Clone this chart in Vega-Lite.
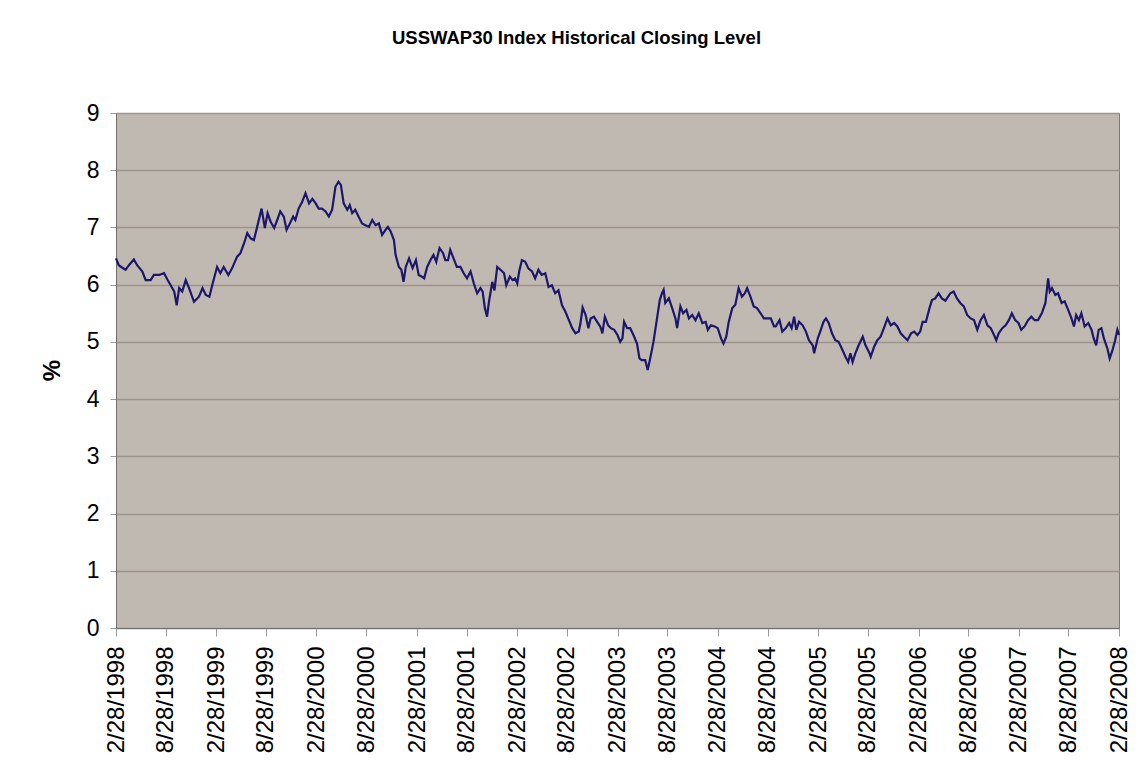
{
  "$schema": "https://vega.github.io/schema/vega-lite/v6.json",
  "width": 1003,
  "height": 515,
  "autosize": {"type": "none"},
  "padding": {"left": 116, "top": 113, "right": 26, "bottom": 154},
  "background": "#ffffff",
  "title": {
    "text": "USSWAP30 Index Historical Closing Level",
    "font": "Liberation Sans",
    "fontSize": 18.5,
    "fontWeight": "bold",
    "color": "#000000",
    "anchor": "middle",
    "dx": -41,
    "offset": 55
  },
  "config": {
    "view": {"fill": "#C0B9B2", "stroke": "#7a7a7a", "strokeWidth": 1},
    "axis": {"labelFont": "Liberation Sans", "titleFont": "Liberation Sans", "labelColor": "#000000", "titleColor": "#000000"}
  },
  "data": {
    "values": [
      {"d": "1998-02-28", "v": 6.46}, {"d": "1998-03-10", "v": 6.34}, {"d": "1998-03-22", "v": 6.30}, {"d": "1998-04-04", "v": 6.26},
      {"d": "1998-04-16", "v": 6.34}, {"d": "1998-05-04", "v": 6.44}, {"d": "1998-05-16", "v": 6.34}, {"d": "1998-06-04", "v": 6.23},
      {"d": "1998-06-16", "v": 6.08}, {"d": "1998-07-04", "v": 6.08}, {"d": "1998-07-16", "v": 6.17}, {"d": "1998-08-04", "v": 6.17},
      {"d": "1998-08-22", "v": 6.20}, {"d": "1998-09-04", "v": 6.08}, {"d": "1998-09-15", "v": 5.99}, {"d": "1998-09-28", "v": 5.88},
      {"d": "1998-10-07", "v": 5.64}, {"d": "1998-10-16", "v": 5.94}, {"d": "1998-10-27", "v": 5.88}, {"d": "1998-11-09", "v": 6.08},
      {"d": "1998-11-21", "v": 5.94}, {"d": "1998-12-09", "v": 5.70}, {"d": "1998-12-27", "v": 5.79}, {"d": "1999-01-09", "v": 5.94},
      {"d": "1999-01-21", "v": 5.82}, {"d": "1999-02-03", "v": 5.79}, {"d": "1999-02-15", "v": 6.02}, {"d": "1999-03-03", "v": 6.31},
      {"d": "1999-03-15", "v": 6.20}, {"d": "1999-03-27", "v": 6.31}, {"d": "1999-04-13", "v": 6.17}, {"d": "1999-04-27", "v": 6.29},
      {"d": "1999-05-15", "v": 6.49}, {"d": "1999-05-27", "v": 6.55}, {"d": "1999-06-09", "v": 6.72}, {"d": "1999-06-21", "v": 6.90},
      {"d": "1999-07-03", "v": 6.81}, {"d": "1999-07-15", "v": 6.78}, {"d": "1999-07-27", "v": 7.01}, {"d": "1999-08-12", "v": 7.33},
      {"d": "1999-08-24", "v": 6.99}, {"d": "1999-09-03", "v": 7.25}, {"d": "1999-09-14", "v": 7.10}, {"d": "1999-09-27", "v": 6.99},
      {"d": "1999-10-08", "v": 7.13}, {"d": "1999-10-19", "v": 7.28}, {"d": "1999-11-01", "v": 7.19}, {"d": "1999-11-11", "v": 6.96},
      {"d": "1999-11-23", "v": 7.07}, {"d": "1999-12-05", "v": 7.19}, {"d": "1999-12-13", "v": 7.13}, {"d": "1999-12-25", "v": 7.33},
      {"d": "2000-01-07", "v": 7.45}, {"d": "2000-01-19", "v": 7.60}, {"d": "2000-02-01", "v": 7.42}, {"d": "2000-02-13", "v": 7.50},
      {"d": "2000-02-25", "v": 7.42}, {"d": "2000-03-07", "v": 7.33}, {"d": "2000-03-19", "v": 7.33}, {"d": "2000-04-01", "v": 7.28},
      {"d": "2000-04-13", "v": 7.19}, {"d": "2000-04-25", "v": 7.31}, {"d": "2000-05-07", "v": 7.71}, {"d": "2000-05-18", "v": 7.80},
      {"d": "2000-05-27", "v": 7.74}, {"d": "2000-06-06", "v": 7.42}, {"d": "2000-06-19", "v": 7.31}, {"d": "2000-06-28", "v": 7.39},
      {"d": "2000-07-07", "v": 7.25}, {"d": "2000-07-18", "v": 7.31}, {"d": "2000-07-30", "v": 7.19}, {"d": "2000-08-12", "v": 7.07},
      {"d": "2000-08-24", "v": 7.04}, {"d": "2000-09-06", "v": 7.01}, {"d": "2000-09-18", "v": 7.13}, {"d": "2000-09-30", "v": 7.04},
      {"d": "2000-10-12", "v": 7.07}, {"d": "2000-10-24", "v": 6.87}, {"d": "2000-11-06", "v": 6.96}, {"d": "2000-11-14", "v": 7.01},
      {"d": "2000-11-24", "v": 6.93}, {"d": "2000-12-06", "v": 6.78}, {"d": "2000-12-12", "v": 6.52}, {"d": "2000-12-24", "v": 6.31},
      {"d": "2001-01-02", "v": 6.26}, {"d": "2001-01-10", "v": 6.05}, {"d": "2001-01-18", "v": 6.31}, {"d": "2001-01-30", "v": 6.46},
      {"d": "2001-02-12", "v": 6.29}, {"d": "2001-02-24", "v": 6.43}, {"d": "2001-03-06", "v": 6.17}, {"d": "2001-03-18", "v": 6.14},
      {"d": "2001-03-26", "v": 6.11}, {"d": "2001-04-06", "v": 6.31}, {"d": "2001-04-18", "v": 6.43}, {"d": "2001-04-29", "v": 6.52},
      {"d": "2001-05-09", "v": 6.40}, {"d": "2001-05-21", "v": 6.64}, {"d": "2001-06-03", "v": 6.55}, {"d": "2001-06-11", "v": 6.43},
      {"d": "2001-06-21", "v": 6.43}, {"d": "2001-06-29", "v": 6.61}, {"d": "2001-07-11", "v": 6.46}, {"d": "2001-07-23", "v": 6.31},
      {"d": "2001-08-05", "v": 6.31}, {"d": "2001-08-17", "v": 6.20}, {"d": "2001-08-29", "v": 6.11}, {"d": "2001-09-11", "v": 6.23},
      {"d": "2001-09-23", "v": 6.02}, {"d": "2001-10-05", "v": 5.85}, {"d": "2001-10-17", "v": 5.94}, {"d": "2001-10-25", "v": 5.88},
      {"d": "2001-11-02", "v": 5.59}, {"d": "2001-11-10", "v": 5.44}, {"d": "2001-11-17", "v": 5.70}, {"d": "2001-11-29", "v": 6.05},
      {"d": "2001-12-07", "v": 5.90}, {"d": "2001-12-17", "v": 6.31}, {"d": "2001-12-29", "v": 6.26}, {"d": "2002-01-11", "v": 6.20},
      {"d": "2002-01-19", "v": 5.99}, {"d": "2002-02-01", "v": 6.14}, {"d": "2002-02-11", "v": 6.08}, {"d": "2002-02-20", "v": 6.11},
      {"d": "2002-02-28", "v": 6.02}, {"d": "2002-03-07", "v": 6.23}, {"d": "2002-03-17", "v": 6.43}, {"d": "2002-03-29", "v": 6.40},
      {"d": "2002-04-10", "v": 6.28}, {"d": "2002-04-23", "v": 6.23}, {"d": "2002-05-04", "v": 6.11}, {"d": "2002-05-16", "v": 6.26},
      {"d": "2002-05-28", "v": 6.17}, {"d": "2002-06-10", "v": 6.20}, {"d": "2002-06-22", "v": 5.96}, {"d": "2002-07-04", "v": 5.99},
      {"d": "2002-07-16", "v": 5.85}, {"d": "2002-07-28", "v": 5.90}, {"d": "2002-08-10", "v": 5.64}, {"d": "2002-08-22", "v": 5.53},
      {"d": "2002-09-04", "v": 5.38}, {"d": "2002-09-16", "v": 5.24}, {"d": "2002-09-28", "v": 5.15}, {"d": "2002-10-10", "v": 5.18},
      {"d": "2002-10-16", "v": 5.32}, {"d": "2002-10-24", "v": 5.60}, {"d": "2002-11-04", "v": 5.47}, {"d": "2002-11-14", "v": 5.24},
      {"d": "2002-11-22", "v": 5.41}, {"d": "2002-12-04", "v": 5.44}, {"d": "2002-12-16", "v": 5.35}, {"d": "2002-12-28", "v": 5.26},
      {"d": "2003-01-04", "v": 5.15}, {"d": "2003-01-13", "v": 5.44}, {"d": "2003-01-25", "v": 5.29}, {"d": "2003-02-04", "v": 5.24},
      {"d": "2003-02-16", "v": 5.21}, {"d": "2003-02-28", "v": 5.12}, {"d": "2003-03-10", "v": 5.00}, {"d": "2003-03-18", "v": 5.06},
      {"d": "2003-03-24", "v": 5.35}, {"d": "2003-04-04", "v": 5.24}, {"d": "2003-04-15", "v": 5.24}, {"d": "2003-04-27", "v": 5.12},
      {"d": "2003-05-10", "v": 4.97}, {"d": "2003-05-19", "v": 4.71}, {"d": "2003-05-27", "v": 4.68}, {"d": "2003-06-09", "v": 4.68},
      {"d": "2003-06-18", "v": 4.51}, {"d": "2003-06-27", "v": 4.71}, {"d": "2003-07-09", "v": 5.00}, {"d": "2003-07-21", "v": 5.38},
      {"d": "2003-08-01", "v": 5.73}, {"d": "2003-08-09", "v": 5.85}, {"d": "2003-08-15", "v": 5.91}, {"d": "2003-08-21", "v": 5.68},
      {"d": "2003-09-03", "v": 5.76}, {"d": "2003-09-15", "v": 5.59}, {"d": "2003-09-27", "v": 5.41}, {"d": "2003-10-03", "v": 5.24},
      {"d": "2003-10-15", "v": 5.62}, {"d": "2003-10-25", "v": 5.50}, {"d": "2003-11-06", "v": 5.56}, {"d": "2003-11-15", "v": 5.41},
      {"d": "2003-11-27", "v": 5.47}, {"d": "2003-12-09", "v": 5.38}, {"d": "2003-12-21", "v": 5.50}, {"d": "2004-01-03", "v": 5.33},
      {"d": "2004-01-15", "v": 5.35}, {"d": "2004-01-23", "v": 5.21}, {"d": "2004-02-03", "v": 5.29}, {"d": "2004-02-17", "v": 5.27},
      {"d": "2004-02-28", "v": 5.24}, {"d": "2004-03-11", "v": 5.06}, {"d": "2004-03-20", "v": 4.97}, {"d": "2004-03-30", "v": 5.09},
      {"d": "2004-04-08", "v": 5.35}, {"d": "2004-04-21", "v": 5.59}, {"d": "2004-05-02", "v": 5.65}, {"d": "2004-05-14", "v": 5.94},
      {"d": "2004-05-26", "v": 5.79}, {"d": "2004-06-06", "v": 5.85}, {"d": "2004-06-14", "v": 5.94}, {"d": "2004-06-26", "v": 5.79},
      {"d": "2004-07-08", "v": 5.62}, {"d": "2004-07-20", "v": 5.59}, {"d": "2004-08-02", "v": 5.50}, {"d": "2004-08-14", "v": 5.41},
      {"d": "2004-08-26", "v": 5.41}, {"d": "2004-09-08", "v": 5.41}, {"d": "2004-09-20", "v": 5.27}, {"d": "2004-09-26", "v": 5.27},
      {"d": "2004-10-10", "v": 5.38}, {"d": "2004-10-20", "v": 5.18}, {"d": "2004-11-02", "v": 5.24}, {"d": "2004-11-14", "v": 5.33},
      {"d": "2004-11-23", "v": 5.24}, {"d": "2004-12-02", "v": 5.44}, {"d": "2004-12-10", "v": 5.21}, {"d": "2004-12-20", "v": 5.35},
      {"d": "2005-01-02", "v": 5.29}, {"d": "2005-01-14", "v": 5.18}, {"d": "2005-01-25", "v": 5.03}, {"d": "2005-02-08", "v": 4.94},
      {"d": "2005-02-13", "v": 4.80}, {"d": "2005-02-26", "v": 5.06}, {"d": "2005-03-07", "v": 5.18}, {"d": "2005-03-19", "v": 5.35},
      {"d": "2005-03-28", "v": 5.41}, {"d": "2005-04-07", "v": 5.33}, {"d": "2005-04-19", "v": 5.15}, {"d": "2005-05-01", "v": 5.03},
      {"d": "2005-05-13", "v": 5.00}, {"d": "2005-05-25", "v": 4.88}, {"d": "2005-06-07", "v": 4.74}, {"d": "2005-06-17", "v": 4.65},
      {"d": "2005-06-25", "v": 4.80}, {"d": "2005-07-03", "v": 4.65}, {"d": "2005-07-13", "v": 4.80}, {"d": "2005-07-25", "v": 4.94},
      {"d": "2005-08-09", "v": 5.09}, {"d": "2005-08-19", "v": 4.94}, {"d": "2005-09-01", "v": 4.82}, {"d": "2005-09-07", "v": 4.74},
      {"d": "2005-09-19", "v": 4.91}, {"d": "2005-10-01", "v": 5.03}, {"d": "2005-10-13", "v": 5.09}, {"d": "2005-10-25", "v": 5.24},
      {"d": "2005-11-07", "v": 5.41}, {"d": "2005-11-19", "v": 5.29}, {"d": "2005-12-01", "v": 5.33}, {"d": "2005-12-13", "v": 5.27},
      {"d": "2005-12-25", "v": 5.15}, {"d": "2006-01-06", "v": 5.09}, {"d": "2006-01-19", "v": 5.03}, {"d": "2006-02-01", "v": 5.15},
      {"d": "2006-02-12", "v": 5.18}, {"d": "2006-02-24", "v": 5.12}, {"d": "2006-03-06", "v": 5.18}, {"d": "2006-03-15", "v": 5.35},
      {"d": "2006-03-27", "v": 5.35}, {"d": "2006-04-09", "v": 5.59}, {"d": "2006-04-18", "v": 5.73}, {"d": "2006-04-30", "v": 5.76},
      {"d": "2006-05-12", "v": 5.85}, {"d": "2006-05-24", "v": 5.76}, {"d": "2006-06-06", "v": 5.72}, {"d": "2006-06-24", "v": 5.85},
      {"d": "2006-07-06", "v": 5.88}, {"d": "2006-07-18", "v": 5.76}, {"d": "2006-07-30", "v": 5.68}, {"d": "2006-08-12", "v": 5.62},
      {"d": "2006-08-24", "v": 5.47}, {"d": "2006-09-06", "v": 5.41}, {"d": "2006-09-18", "v": 5.38}, {"d": "2006-09-30", "v": 5.21},
      {"d": "2006-10-12", "v": 5.38}, {"d": "2006-10-24", "v": 5.47}, {"d": "2006-11-06", "v": 5.29}, {"d": "2006-11-18", "v": 5.24},
      {"d": "2006-11-30", "v": 5.12}, {"d": "2006-12-08", "v": 5.03}, {"d": "2006-12-17", "v": 5.15}, {"d": "2006-12-30", "v": 5.24},
      {"d": "2007-01-11", "v": 5.29}, {"d": "2007-01-23", "v": 5.38}, {"d": "2007-02-03", "v": 5.50}, {"d": "2007-02-15", "v": 5.38},
      {"d": "2007-02-27", "v": 5.33}, {"d": "2007-03-09", "v": 5.21}, {"d": "2007-03-21", "v": 5.27}, {"d": "2007-04-03", "v": 5.38},
      {"d": "2007-04-15", "v": 5.44}, {"d": "2007-04-27", "v": 5.38}, {"d": "2007-05-09", "v": 5.38}, {"d": "2007-05-23", "v": 5.50},
      {"d": "2007-06-05", "v": 5.68}, {"d": "2007-06-15", "v": 6.11}, {"d": "2007-06-21", "v": 5.88}, {"d": "2007-06-29", "v": 5.94},
      {"d": "2007-07-11", "v": 5.82}, {"d": "2007-07-21", "v": 5.85}, {"d": "2007-08-03", "v": 5.68}, {"d": "2007-08-14", "v": 5.71},
      {"d": "2007-08-27", "v": 5.56}, {"d": "2007-09-08", "v": 5.41}, {"d": "2007-09-17", "v": 5.27}, {"d": "2007-09-25", "v": 5.47},
      {"d": "2007-10-05", "v": 5.38}, {"d": "2007-10-14", "v": 5.50}, {"d": "2007-10-26", "v": 5.27}, {"d": "2007-11-08", "v": 5.33},
      {"d": "2007-11-20", "v": 5.21}, {"d": "2007-11-28", "v": 5.06}, {"d": "2007-12-07", "v": 4.94}, {"d": "2007-12-16", "v": 5.21},
      {"d": "2007-12-26", "v": 5.24}, {"d": "2008-01-04", "v": 5.06}, {"d": "2008-01-17", "v": 4.88}, {"d": "2008-01-25", "v": 4.71},
      {"d": "2008-02-04", "v": 4.85}, {"d": "2008-02-14", "v": 5.03}, {"d": "2008-02-22", "v": 5.21}, {"d": "2008-02-28", "v": 5.12}
    ]
  },
  "mark": {"type": "line", "color": "#1C176A", "strokeWidth": 2.2, "interpolate": "linear"},
  "encoding": {
    "x": {
      "field": "d",
      "type": "temporal",
      "scale": {
        "type": "utc",
        "domain": [
          {"year": 1998, "month": 2, "date": 28, "utc": true},
          {"year": 2008, "month": 2, "date": 28, "utc": true}
        ]
      },
      "axis": {
        "title": null,
        "grid": false,
        "format": "%-m/%d/%Y",
        "labelAngle": -90,
        "labelAlign": "right",
        "labelBaseline": "middle",
        "labelFontSize": 24,
        "labelPadding": 10,
        "labelOverlap": false,
        "tickSize": 8,
        "tickColor": "#9a9a9a",
        "domainColor": "#6f6f6f",
        "values": [
          {"year": 1998, "month": 2, "date": 28, "utc": true},
          {"year": 1998, "month": 8, "date": 28, "utc": true},
          {"year": 1999, "month": 2, "date": 28, "utc": true},
          {"year": 1999, "month": 8, "date": 28, "utc": true},
          {"year": 2000, "month": 2, "date": 28, "utc": true},
          {"year": 2000, "month": 8, "date": 28, "utc": true},
          {"year": 2001, "month": 2, "date": 28, "utc": true},
          {"year": 2001, "month": 8, "date": 28, "utc": true},
          {"year": 2002, "month": 2, "date": 28, "utc": true},
          {"year": 2002, "month": 8, "date": 28, "utc": true},
          {"year": 2003, "month": 2, "date": 28, "utc": true},
          {"year": 2003, "month": 8, "date": 28, "utc": true},
          {"year": 2004, "month": 2, "date": 28, "utc": true},
          {"year": 2004, "month": 8, "date": 28, "utc": true},
          {"year": 2005, "month": 2, "date": 28, "utc": true},
          {"year": 2005, "month": 8, "date": 28, "utc": true},
          {"year": 2006, "month": 2, "date": 28, "utc": true},
          {"year": 2006, "month": 8, "date": 28, "utc": true},
          {"year": 2007, "month": 2, "date": 28, "utc": true},
          {"year": 2007, "month": 8, "date": 28, "utc": true},
          {"year": 2008, "month": 2, "date": 28, "utc": true}
        ]
      }
    },
    "y": {
      "field": "v",
      "type": "quantitative",
      "scale": {"domain": [0, 9], "nice": false, "zero": true},
      "axis": {
        "title": "%",
        "titleFontSize": 24,
        "titleFontWeight": "bold",
        "titleX": -64,
        "titleY": 257,
        "titleAlign": "center",
        "titleBaseline": "middle",
        "values": [0, 1, 2, 3, 4, 5, 6, 7, 8, 9],
        "labelFontSize": 23,
        "labelPadding": 11,
        "tickSize": 6,
        "tickColor": "#9a9a9a",
        "domainColor": "#6f6f6f",
        "grid": true,
        "gridColor": "#9C948C",
        "gridWidth": 1.5
      }
    }
  }
}
